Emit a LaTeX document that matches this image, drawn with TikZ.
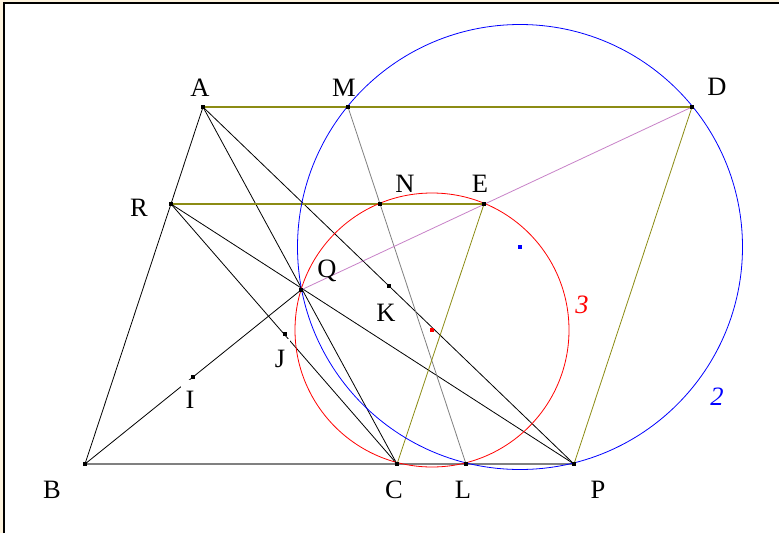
\documentclass[tikz,border=0pt]{standalone}
\usepackage{fontspec}
\setmainfont{Liberation Serif}
\usetikzlibrary{calc}
\definecolor{frame}{RGB}{253,243,222}
\definecolor{olv}{RGB}{140,140,20}
\definecolor{lilac}{RGB}{200,130,200}
\begin{document}
\begin{tikzpicture}[x=1pt, y=-1pt, line width=0.8pt, font=\fontsize{26.5}{30}\selectfont,
  lab/.style={anchor=base, inner sep=0pt}, cut/.style={anchor=base, fill=white, inner xsep=5pt, inner ysep=1pt, text height=27pt, text depth=1pt}]
\useasboundingbox (0,0) rectangle (779,533);
\fill[frame] (0,0) rectangle (779,533); \fill[white] (5,4) rectangle (779,533); \draw[line width=2pt] (4,533) -- (4,3) -- (779,3);
% points
\coordinate (A) at (203,107); \coordinate (M) at (348,107); \coordinate (D) at (692,107);
\coordinate (R) at (171,204); \coordinate (N) at (380,204); \coordinate (E) at (484,204);
\coordinate (Q) at (301,290); \coordinate (K) at (389,286); \coordinate (J) at (285,334); \coordinate (I) at (193,377);
\coordinate (B) at (85,464); \coordinate (C) at (397,464); \coordinate (L) at (466,464); \coordinate (P) at (574,464);
\coordinate (O2) at (520,247); \coordinate (O3) at (432,330);
% lines
\draw (A) -- (B); \draw (A) -- (C); \draw (A) -- (P); \draw (R) -- (C); \draw (R) -- (P); \draw (B) -- (Q);
\draw[gray, line width=1.3pt] (B) -- (P); \draw[gray] (M) -- (L); \draw[lilac] (Q) -- (D);
\draw[olv, line width=1.1pt] (A) -- (D); \draw[olv, line width=1.1pt] (R) -- (E); \draw[olv] (C) -- (E); \draw[olv] (P) -- (D);
% circles
\draw[blue] (O2) circle (222.5); \draw[red] (O3) circle (137);
% labels
\node[lab] (lA) at (200,96) {A}; \node[lab] (lM) at (344,96) {M}; \node[lab] (lD) at (717,95) {D};
\node[lab] (lN) at (405,192) {N}; \node[lab] (lE) at (480,192) {E}; \node[lab] (lR) at (139,216) {R};
\node[lab] (lQ) at (327,277) {Q}; \node[lab] (lK) at (386,321) {K}; \node[cut] (lJ) at (280,367) {J}; \node[cut] (lI) at (190,408) {I};
\node[lab] (lB) at (52,498) {B}; \node[lab] (lC) at (394,498) {C}; \node[lab] (lL) at (463,498) {L}; \node[lab] (lP) at (598,498) {P};
\node[lab, red] (l3) at (582,313) {\itshape 3}; \node[lab, blue] (l2) at (717,405) {\itshape 2};
\foreach \p in {A,M,D,R,N,E,Q,K,J,I,B,C,L,P} \fill (\p) +(-2,-2) rectangle +(2,2);
\fill[red] (O3) +(-2,-2) rectangle +(2,2); \fill[blue] (O2) +(-2,-2) rectangle +(2,2);
\end{tikzpicture}
\end{document}
